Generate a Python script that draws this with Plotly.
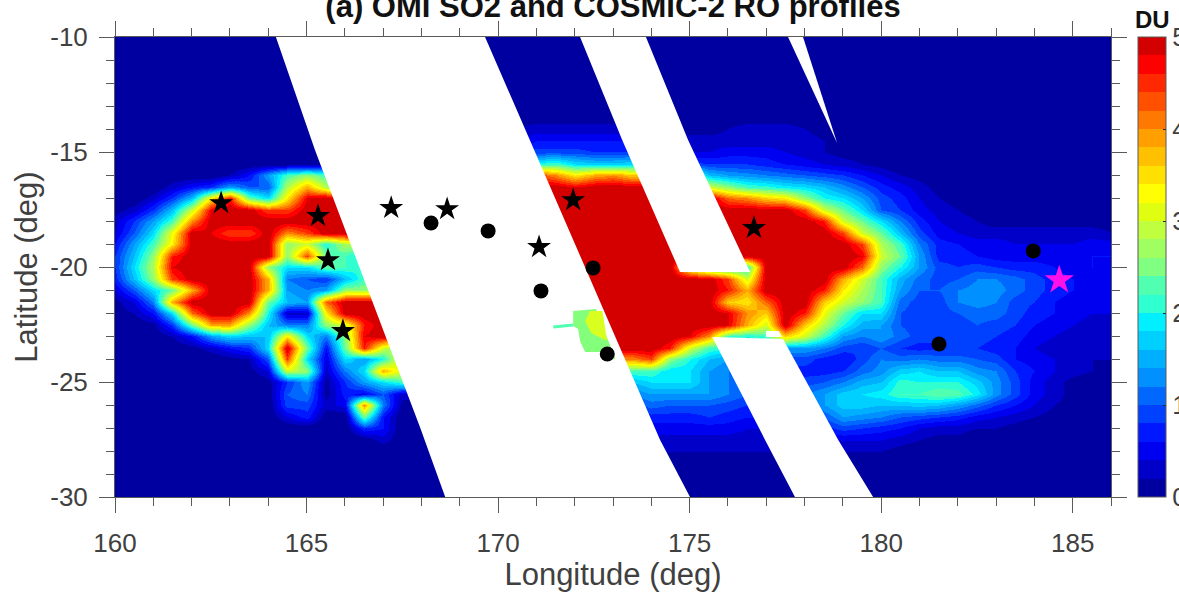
import plotly.graph_objects as go

# --- axes / ticks ---
lon = [160 + 0.5 * i for i in range(53)]
lat = [-10 - 0.5 * j for j in range(41)]
lon_ticks = [160, 165, 170, 175, 180, 185]
lat_ticks = [-10, -15, -20, -25, -30]
lat_labels = ["-10", "-15", "-20", "-25", "-30"]
cbar_ticks = [0, 1, 2, 3, 4, 5]

# --- SO2 column, tenths of DU, one list per 0.5 deg latitude (north to south) ---
so2_rows = [
 [0]*53,
 [0]*53,
 [0]*53,
 [0]*53,
 [0]*53,
 [0]*53,
 [0]*20 + [1]*7 + [1]*13,
 [0]*20 + [1]*7 + [1]*13,
 [0]*20 + [2,2,3,3,3,3,3] + [1,1,1,1,1,2,3,3,3,2,1,1,1],
 [0]*20 + [3,4,6,6,6,6,6] + [6,3,3,3,3,3,3,3,3,3,2,1,1],
 [0]*20 + [4,8,9,9,9,8,8] + [8,4,4,4,4,5,5,5,4,3,2,1,1],
 [0]*20 + [10,16,20,22,18,17,17] + [18,10,9,9,8,8,8,7,6,5,4,3,2] + [1],
 [0,0,0,0,0,0,2,6,14,22,26,22,20] + [20,10,8,8,8,8,8,12,30,44,40,34,38,40] + [36,36,30,26,16,14,13,12,11,10,9,8,6] + [4,2,1],
 [0,0,0,3,6,8,14,10,10,28,38,28,22] + [22,12,10,10,10,10,10,16,40,50,50,48,50,50] + [50,50,50,40,30,26,22,21,19,18,16,13,10] + [7,5,3,1,1],
 [0,0,3,8,16,34,46,24,18,34,48,50,50] + [50]*14 + [50,50,50,50,50,42,40,36,34,26,20,18,14] + [9,7,4,2,1],
 [1,3,8,16,30,48,50,50,44,44,50,50,50] + [50]*14 + [50,50,50,50,50,50,50,50,50,44,30,24,18] + [10,8,5,3,2,1],
 [3,8,14,22,40,50,50,50,50,50,50,50,50] + [50]*14 + [50,50,50,50,50,50,50,50,50,50,46,30,24] + [18,12,7,4,3,2,1,1,1,1,1,1,1],
 [4,10,18,32,50,48,44,44,50,40,44,50,50] + [50]*14 + [50,50,50,50,50,50,50,50,50,50,50,44,30] + [24,16,9,5,4,3,3,3,3,3,3,3,2],
 [6,14,22,34,50,50,50,50,50,26,30,20,28] + [28,28,40] + [50]*11 + [50]*12 + [44] + [28,22,12,7,6,5,5,4,4,4,4,5,5],
 [8,16,26,46,50,50,50,50,50,26,44,24,22] + [18,18,40] + [50]*11 + [50]*12 + [48] + [30,24,14,7,7,6,5,5,5,5,5,6,6],
 [8,18,28,48,50,50,50,50,26,18,18,24,22] + [20,16,16,40] + [50]*10 + [50,50,50,30,20,18,20,50,50,50,50,50,42] + [26,20,14,9,8,9,8,7,7,6,5,6,5],
 [7,16,26,44,50,50,50,50,38,12,10,8,16] + [22,22,22,40] + [50]*10 + [50,50,50,50,50,44,30,50,50,50,50,38,30] + [22,15,11,9,10,12,12,11,9,7,6,5,5],
 [4,10,18,24,38,50,50,50,38,14,12,14,26] + [26,26,26,40] + [50]*10 + [50,50,50,50,50,46,38,50,50,50,46,34,28] + [22,14,10,10,12,13,13,11,9,7,6,5,5],
 [1,4,12,38,50,50,50,50,24,16,14,42,50] + [50]*14 + [50,50,50,50,50,36,34,42,50,50,36,30,26] + [22,11,9,9,12,13,12,9,8,6,5,5,4],
 [1,2,6,18,42,50,50,40,20,3,3,34,50] + [50]*14 + [50,50,50,50,50,48,40,36,50,46,32,24,18] + [18,10,9,9,10,11,11,9,7,6,5,4,4],
 [0,0,1,8,24,38,38,26,16,12,12,26,30] + [46,50,42,42,42,42,42,50,50,50,50,50,50,50] + [50,50,50,50,50,48,38,30,50,36,28,20,15] + [14,10,9,9,9,10,9,8,6,5,4,3,3],
 [0,0,0,2,6,14,18,16,16,34,18,12,26] + [48,50] + [50]*12 + [50,50,50,48,40,22,20,22,36,30,22,14,12] + [14,11,9,8,9,9,8,7,5,4,3,3,2],
 [0,0,0,0,1,3,6,8,18,50,24,6,24] + [46,30,24,24,24,24,30,40,50,50,50,50,50,50] + [50,50,46,30,22,20,18,14,14,14,12,9,8] + [10,8,7,8,8,8,7,6,4,3,3,2,2],
 [0,0,0,0,0,0,1,2,10,44,18,4,18] + [14,20,34,34,34,34,36,38,40,40,40,40,40,40] + [40,44,26,20,16,14,12,9,9,9,7,6,9] + [12,11,12,11,11,10,9,6,5,4,3,2,2],
 [0,0,0,0,0,0,0,1,4,30,26,3,12] + [18,38,30,30,30,30,30,24,22,22,22,22,22,22] + [22,22,18,18,14,12,10,8,7,7,7,8,11] + [13,17,18,16,16,13,12,8,6,4,3,2,1],
 [0,0,0,0,0,0,0,0,1,8,14,1,8] + [14,18,22,22,20,20,16,16,16,16,16,16,16,16] + [16,18,18,18,14,12,10,9,9,9,10,12,15] + [16,21,20,20,20,17,13,9,5,3,1],
 [0,0,0,0,0,0,0,0,0,10,12,1,7] + [5,10,3,3,3,3,4,8,12,12,12,12,12,12] + [12,14,14,14,14,12,10,10,11,12,14,17,18] + [19,22,22,24,23,19,13,9,5,3,1],
 [0,0,0,0,0,0,0,0,0,9,9,3,5] + [40,12,1,1,1,1,1,5,9,9,9,9,9,9] + [9,11,10,10,10,9,8,8,9,12,14,17,17] + [16,16,17,16,14,11,8,6,4,2,1],
 [0,0,0,0,0,0,0,0,0,4,7,0,0] + [24,6,0,0,0,0,0,3,6,6,6,6,6,6] + [7,7,7,7,8,7,6,6,6,8,10,14,13] + [12,10,9,8,7,5,4,3,2,1],
 [0]*13 + [8,6,0,0,0,0,0,2,4,4,4,4,4,4] + [4,5,5,5,5,5,4,4,4,5,7,9,8] + [7,6,4,3,3,2,2,1],
 [0]*13 + [0,3,0,0,0,0,0,1,3,3,3,3,3,3] + [3,3,3,3,3,3,3,3,3,3,4,4,4] + [4,3,2,1,1],
 [0]*21 + [2]*6 + [2]*13 + [2, 1],
 [0]*21 + [1]*6 + [1]*13,
 [0]*27 + [1]*8,
 [0]*53,
 [0]*53,
]
so2_du = [[v / 10 for v in (row + [0] * (53 - len(row)))[:53]] for row in so2_rows]

# --- orbit gaps and patches, lon / lat ---
gap1_lon = [164.20, 169.66, 174.23, 175.01, 168.62, 167.96, 165.22]
gap1_lat = [-10, -10, -27.52, -30, -30, -26.96, -14.91]
gap2a_lon = [172.14, 173.86, 174.96, 176.58, 174.75, 173.24]
gap2a_lat = [-10, -10, -14.48, -20.22, -20.22, -14.48]
gap2b_lon = [175.59, 177.44, 178.88, 179.79, 177.75, 176.97]
gap2b_lat = [-23.04, -23.13, -27.52, -30, -30, -27.52]
gap3_lon = [177.57, 177.96, 178.85]
gap3_lat = [-10, -10, -14.61]
gap4_lon = [176.99, 177.33, 177.41, 176.99]
gap4_lat = [-22.78, -22.78, -23.04, -23.04]

patch_green_lon = [171.96, 172.56, 173.06, 172.85, 172.80, 172.27, 172.14, 172.09, 171.96]
patch_green_lat = [-21.91, -21.83, -24.0, -24.0, -23.70, -23.70, -23.22, -22.70, -22.57]
patch_yellow_lon = [172.40, 172.72, 172.85, 172.43, 172.27]
patch_yellow_lat = [-21.91, -21.91, -23.22, -22.87, -22.35]
streak_lon = [171.44, 171.96]
streak_lat = [-22.61, -22.52]

# --- profile locations ---
star_lon = [162.77, 165.30, 165.56, 165.95, 167.21, 168.67, 171.07, 171.96, 176.68]
star_lat = [-17.22, -17.78, -19.70, -22.78, -17.43, -17.48, -19.13, -17.09, -18.30]
dot_lon = [168.25, 169.74, 171.12, 172.48, 172.85, 181.51, 183.97]
dot_lat = [-18.09, -18.43, -21.04, -20.04, -23.78, -23.35, -19.30]
pink_lon = [184.65]
pink_lat = [-20.57]

level_colors = [
 "#0000A0", "#0000C8", "#0000F0", "#0018FF", "#0040FF",
 "#0068FF", "#0090FF", "#00B0FF", "#00D0FF", "#00F0FF",
 "#30FFD0", "#50FFB0", "#80FF80", "#A0FF60", "#C0FF40",
 "#E0FF10", "#FFFF00", "#FFE000", "#FFC000", "#FFA000",
 "#FF7800", "#FF5000", "#FF2800", "#FF0000", "#D40000",
]
n = len(level_colors)
scale = []
for k, c in enumerate(level_colors):
    scale += [[k / n, c], [(k + 1) / n, c]]

GRAY = "#404040"
LINE = "#5a5a5a"

fig = go.Figure()
fig.add_trace(go.Heatmap(
    x=lon, y=lat, z=so2_du, zmin=0, zmax=5, zsmooth="best", colorscale=scale, hoverinfo="skip",
    colorbar=dict(
        x=(1138 - 115) / 996, xanchor="left", xpad=0, y=0.5, yanchor="middle", ypad=0,
        len=1, lenmode="fraction", thickness=28, thicknessmode="pixels",
        outlinecolor=LINE, outlinewidth=1, borderwidth=0,
        tickmode="array", tickvals=cbar_ticks, ticktext=[str(t) for t in cbar_ticks],
        ticks="inside", ticklen=3, tickcolor="#222222", tickwidth=1,
        tickfont=dict(family="Liberation Sans, Arial", size=26, color=GRAY),
    ),
))

for xs, ys in [(gap1_lon, gap1_lat), (gap2a_lon, gap2a_lat), (gap2b_lon, gap2b_lat),
               (gap3_lon, gap3_lat), (gap4_lon, gap4_lat)]:
    fig.add_trace(go.Scatter(x=xs, y=ys, mode="lines", fill="toself", fillcolor="white",
                             line=dict(width=0, color="white"), hoverinfo="skip", showlegend=False))
fig.add_trace(go.Scatter(x=patch_green_lon, y=patch_green_lat, mode="lines", fill="toself",
                         fillcolor="#84FF7C", line=dict(width=0), hoverinfo="skip", showlegend=False))
fig.add_trace(go.Scatter(x=patch_yellow_lon, y=patch_yellow_lat, mode="lines", fill="toself",
                         fillcolor="#D8FF20", line=dict(width=0), hoverinfo="skip", showlegend=False))
fig.add_trace(go.Scatter(x=streak_lon, y=streak_lat, mode="lines",
                         line=dict(width=3, color="#50FFB0"), hoverinfo="skip", showlegend=False))

fig.add_trace(go.Scatter(x=dot_lon, y=dot_lat, mode="markers", showlegend=False,
                         marker=dict(symbol="circle", size=15, color="black")))
fig.add_trace(go.Scatter(x=star_lon, y=star_lat, mode="markers", showlegend=False,
                         marker=dict(symbol="star", size=18, color="black")))
fig.add_trace(go.Scatter(x=pink_lon, y=pink_lat, mode="markers", showlegend=False,
                         marker=dict(symbol="star", size=22, color="#FF10E8")))

axis_common = dict(
    showgrid=False, zeroline=False, showline=True, linecolor=LINE, linewidth=1,
    mirror="ticks", ticks="outside", ticklen=15, tickwidth=1, tickcolor=LINE,
    tickfont=dict(family="Liberation Sans, Arial", size=26, color=GRAY),
)
fig.update_layout(
    width=1179, height=592, paper_bgcolor="white", plot_bgcolor="white",
    margin=dict(l=115, r=68, t=37, b=95, pad=0, autoexpand=False),
    showlegend=False,
    font=dict(family="Liberation Sans, Arial"),
    title=dict(text="<b>(a) OMI SO2 and COSMIC-2 RO profiles</b>", x=613 / 1179, xanchor="center",
               xref="container", yref="container", y=1 - 17 / 592, yanchor="bottom",
               font=dict(family="Liberation Sans, Arial", size=31, color="#111111"), automargin=False),
    xaxis=dict(axis_common, range=[160, 186], tickmode="array", tickvals=lon_ticks,
               ticktext=[str(t) for t in lon_ticks], ticklabelstandoff=8,
               minor=dict(dtick=1, ticks="outside", ticklen=8, tickcolor=LINE, tickwidth=1),
               title=dict(text="Longitude (deg)", standoff=0,
                          font=dict(family="Liberation Sans, Arial", size=31, color=GRAY))),
    yaxis=dict(axis_common, range=[-30, -10], tickmode="array", tickvals=lat_ticks,
               ticktext=lat_labels, ticklabelstandoff=6,
               minor=dict(dtick=1, ticks="outside", ticklen=8, tickcolor=LINE, tickwidth=1),
               title=dict(text="Latitude (deg)", standoff=3,
                          font=dict(family="Liberation Sans, Arial", size=31, color=GRAY))),
    annotations=[dict(text="<b>DU</b>", xref="paper", yref="paper", x=(1152 - 115) / 996, y=1,
                      yshift=2, xanchor="center", yanchor="bottom", showarrow=False,
                      font=dict(family="Liberation Sans, Arial", size=24, color="#111111"))],
)
fig.write_html("out.html", config=dict(displayModeBar=False),
               post_script="document.body.style.margin='0';document.body.style.overflow='hidden';")
